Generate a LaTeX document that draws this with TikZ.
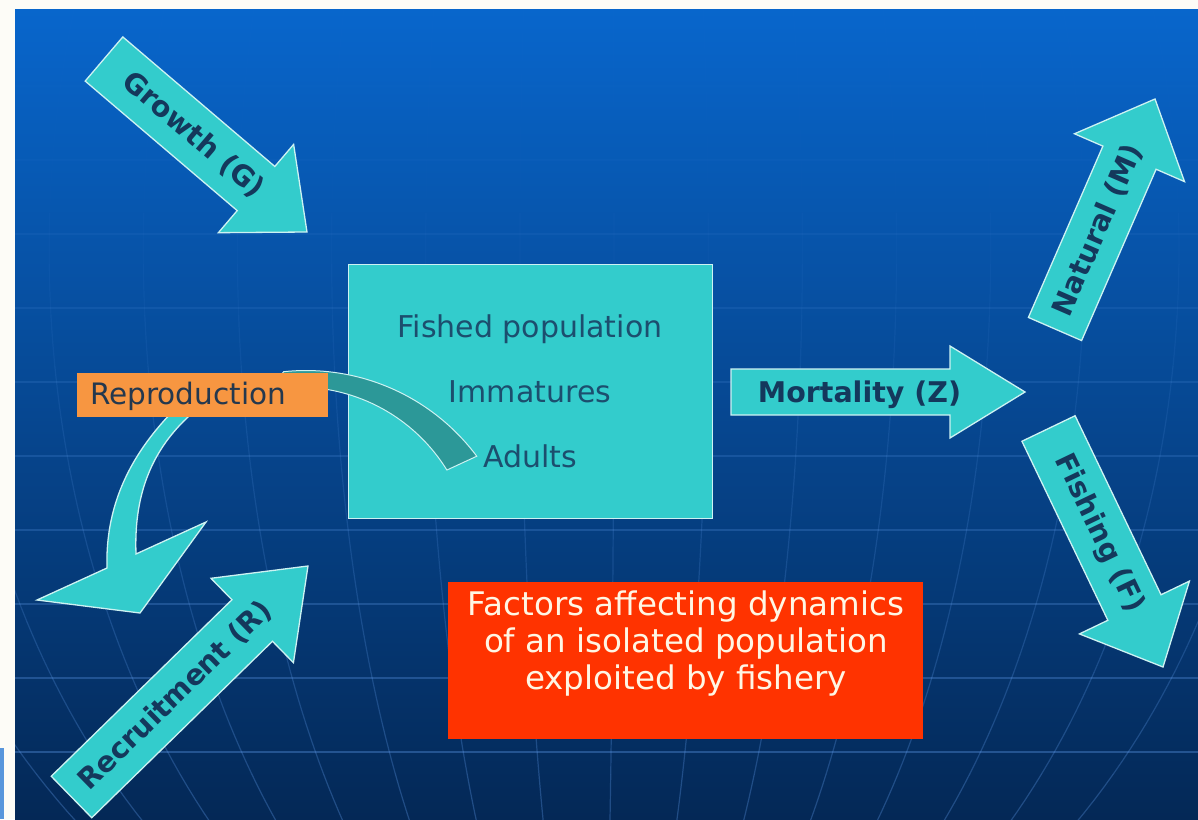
\documentclass[tikz,border=0pt]{standalone}
\usepackage{fontspec}
\setmainfont{DejaVu Sans}
\usetikzlibrary{calc}

\definecolor{paper}{RGB}{253,252,247}
\definecolor{stripblue}{RGB}{88,150,220}
\definecolor{slidetop}{RGB}{8,102,204}
\definecolor{slidemid}{RGB}{9,78,162}
\definecolor{slidebot}{RGB}{4,40,86}
\definecolor{gridblue}{RGB}{100,160,240}
\definecolor{arrowteal}{RGB}{51,204,204}
\definecolor{arrowedge}{RGB}{205,242,242}
\definecolor{bandteal}{RGB}{44,152,152}
\definecolor{labelblue}{RGB}{20,56,92}
\definecolor{boxtext}{RGB}{28,78,110}
\definecolor{reproorange}{RGB}{247,150,65}
\definecolor{reprotext}{RGB}{36,56,78}
\definecolor{factorred}{RGB}{255,51,0}
\definecolor{factortext}{RGB}{255,246,228}

% straight block arrow: #1 name, #2 tail, #3 tip, #4 half shaft, #5 half head, #6 head length
\newcommand\blockarrow[6]{%
  \coordinate (#1-t) at (#2);
  \coordinate (#1-h) at (#3);
  \coordinate (#1-n) at ($(#1-h)!#6!(#1-t)$);
  \draw[arrowbody] ($(#1-t)!#4!90:(#1-h)$) -- ($(#1-n)!#4!-90:(#1-t)$)
    -- ($(#1-n)!#5!-90:(#1-t)$) -- (#1-h) -- ($(#1-n)!#5!90:(#1-t)$)
    -- ($(#1-n)!#4!90:(#1-t)$) -- ($(#1-t)!#4!-90:(#1-h)$) -- cycle;
}

\begin{document}
\begin{tikzpicture}[x=1pt,y=-1pt,
  arrowbody/.style={fill=arrowteal, draw=arrowedge, line width=1.3pt, line join=miter},
  band/.style={fill=bandteal, draw=arrowedge, line width=1pt},
  gridline/.style={draw=gridblue, line width=1.2pt},
  lab/.style={font=\fontsize{28.5}{34}\selectfont\bfseries, text=labelblue, inner sep=0pt},
  boxlabel/.style={font=\fontsize{30}{36}\selectfont, text=boxtext, inner sep=0pt, anchor=base},
  popbox/.style={fill=arrowteal, draw=arrowedge, line width=1.3pt, inner sep=0pt},
  reprobox/.style={fill=reproorange, inner sep=0pt},
  reprolabel/.style={font=\fontsize{29.5}{35}\selectfont, text=reprotext, inner sep=0pt},
  factorbox/.style={fill=factorred, inner sep=0pt},
  factorlabel/.style={font=\fontsize{32.5}{37}\selectfont, text=factortext, align=center, inner sep=0pt}]

\useasboundingbox (0,0) rectangle (1198,819);

% page and slide background
\fill[paper] (0,0) rectangle (1198,819);
\fill[stripblue] (0,748) rectangle (4,819);
\shade[top color=slidetop, middle color=slidemid, bottom color=slidebot] (15,9) rectangle (1198,819);

% globe grid: latitudes and converging meridians
\begin{scope}
  \clip (15,9) rectangle (1198,819);
  \foreach \yy in {86,160,234,308,382,456,530,604,678,752} {
    \pgfmathsetmacro\op{max(0.02,0.04+0.3*(\yy-160)/592)}
    \draw[gridline, draw opacity=\op] (15,\yy) -- (1198,\yy);
  }
  \foreach \k in {-8,...,7} {
    \foreach \j in {0,...,15} {
      \pgfmathsetmacro\ya{9+51*\j}
      \pgfmathsetmacro\yb{\ya+51}
      \pgfmathsetmacro\op{max(0.01,-0.06+0.024*\j)}
      \draw[gridline, draw opacity=\op] plot[domain=\ya:\yb, samples=5, variable=\t]
        ({600+(87*\k+13)*sqrt(1-((\t-250)/810)^2)/0.924},{\t});
    }
  }
\end{scope}

% inflow and outflow arrows
\blockarrow{g}{104,59}{307,232}{29pt}{58pt}{67pt}
\path (g-t) -- (g-h) node[lab, pos=0.44, sloped] (growth) {Growth (G)};

\blockarrow{r}{71.5,797}{308,566}{29pt}{59pt}{78pt}
\path (r-t) -- (r-h) node[lab, pos=0.44, sloped] (recruitment) {Recruitment (R)};

\blockarrow{nat}{1055,329}{1155,99}{29pt}{60pt}{64pt}
\path (nat-t) -- (nat-h) node[lab, pos=0.43, sloped] (natural) {Natural (M)};

\blockarrow{fish}{1048.5,428.5}{1163,667}{29.5pt}{61pt}{66pt}
\path (fish-t) -- (fish-h) node[lab, pos=0.44, sloped] (fishing) {Fishing (F)};

\blockarrow{mort}{731,392}{1025,392}{23pt}{46pt}{75pt}
\node[lab, anchor=base] (mortality) at (859.5,402) {Mortality (Z)};

% curved arrow from reproduction down to recruitment
\draw[arrowbody] (174,410) .. controls (135,450) and (105,500) .. (107,568)
  -- (37,600) -- (140,613) -- (206,522) -- (136,554)
  .. controls (134,500) and (148,450) .. (196,410) -- cycle;

% fished population box
\node[popbox, minimum width=364pt, minimum height=254pt, anchor=north west] (population) at (348,264) {};
\node[boxlabel] (fished) at (530,337) {Fished population};
\node[boxlabel] (immatures) at (530,402) {Immatures};
\node[boxlabel] (adults) at (530,467) {Adults};

% curved band from adults back to reproduction
\draw[band]
  plot[domain=-96:-36.7, samples=40, variable=\a] ({306+213*cos(\a)},{583.5+213*sin(\a)})
  -- plot[domain=-31.7:-100, samples=40, variable=\a] ({298+175*cos(\a)},{562+175*sin(\a)})
  -- cycle;

% reproduction label
\node[reprobox, minimum width=251pt, minimum height=44pt, anchor=north west] (repro) at (77,373) {};
\node[reprolabel, anchor=base west] (reproduction) at (90,404) {Reproduction};

% caption box
\node[factorbox, minimum width=475pt, minimum height=157pt, anchor=north west] (factorsbox) at (448,582) {};
\node[factorlabel] (factors) at (686,643.5) {Factors affecting dynamics\\of an isolated population\\exploited by fishery};

\end{tikzpicture}
\end{document}
